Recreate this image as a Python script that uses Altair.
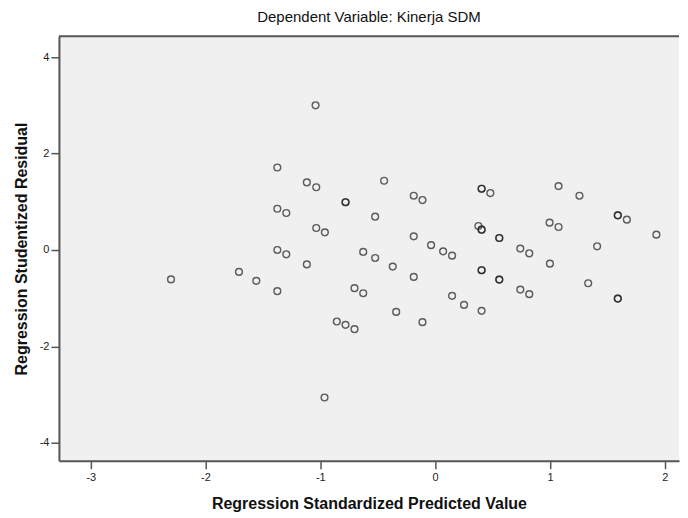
import altair as alt
import pandas as pd

# Regression Standardized Predicted Value (x) and Studentized Residual (y)
pred = [-2.30, -1.708, -1.557, -1.374, -1.374, -1.374, -1.374, -1.296, -1.296,
        -1.117, -1.117, -1.041, -1.035, -1.035, -0.96, -0.963, -0.856,
        -0.78, -0.78, -0.78, -0.702, -0.702, -0.626, -0.626, -0.522, -0.522,
        -0.444, -0.369, -0.339, -0.186, -0.186, -0.186, -0.11, -0.11, -0.035,
        0.07, 0.148, 0.148, 0.252, 0.377, 0.405, 0.405, 0.405, 0.405, 0.405,
        0.405, 0.405, 0.481, 0.559, 0.559, 0.559, 0.559, 0.742, 0.742, 0.82,
        0.82, 0.997, 1.0, 1.075, 1.075, 1.257, 1.333, 1.411, 1.591, 1.591,
        1.591, 1.591, 1.67, 1.927]
resid = [-0.61, -0.455, -0.64, 1.71, 0.855, 0.0, -0.855, 0.766, -0.09,
         1.40, -0.30, 3.00, 1.30, 0.455, 0.366, -3.06, -1.484,
         0.99, 0.99, -1.553, -0.793, -1.643, -0.041, -0.897, 0.69, -0.166,
         1.435, -0.345, -1.284, 1.125, 0.283, -0.559, 1.035, -1.497, 0.10,
         -0.028, -0.118, -0.952, -1.139, 0.497, 1.27, 1.27, 0.42, 0.42, -0.42,
         -0.42, -1.263, 1.18, 0.248, 0.248, -0.614, -0.614, 0.028, -0.822, -0.069,
         -0.917, 0.566, -0.284, 1.325, 0.476, 1.125, -0.69, 0.076, 0.718, 0.718,
         -1.008, -1.008, 0.628, 0.317]

x_ticks = [-3, -2, -1, 0, 1, 2]
y_ticks = [-4, -2, 0, 2, 4]
x_domain = [-3.276, 2.124]
y_domain = [-4.37, 4.43]

PLOT_W = 621
PLOT_H = 425

df = pd.DataFrame({"pred": pred, "resid": resid})

FONT = "Liberation Sans"

points = alt.Chart(df).mark_point(
    shape="circle", filled=False, size=46, strokeWidth=1.4,
    color="#1e1e1e", opacity=0.7
).encode(
    x=alt.X("pred:Q",
            scale=alt.Scale(domain=x_domain, nice=False, zero=False),
            axis=alt.Axis(values=x_ticks, title="Regression Standardized Predicted Value",
                          labelExpr="datum.value + ''", grid=False,
                          tickSize=8, labelPadding=3, titlePadding=13)),
    y=alt.Y("resid:Q",
            scale=alt.Scale(domain=y_domain, nice=False, zero=False),
            axis=alt.Axis(values=y_ticks, title="Regression Studentized Residual",
                          labelExpr="datum.value + ''", grid=False,
                          tickSize=8, labelPadding=2, titlePadding=10)),
)

top_border = alt.Chart(pd.DataFrame({"a": [0]})).mark_rule(
    color="#555555", strokeWidth=2
).encode(y=alt.value(0), x=alt.value(0), x2=alt.value(PLOT_W))

chart = alt.layer(points, top_border).properties(
    width=PLOT_W, height=PLOT_H,
    title=alt.TitleParams("Dependent Variable: Kinerja SDM", fontSize=15,
                          font=FONT, fontWeight="normal", color="#111111",
                          anchor="middle", offset=10),
    padding={"left": 5, "top": 2, "right": 0, "bottom": 0},
    background="white",
).configure_view(
    fill="#F0F0F0", stroke=None
).configure_axis(
    domainColor="#555555", domainWidth=2, tickColor="#555555", tickWidth=1.5,
    labelFont=FONT, labelFontSize=11, labelColor="#222222",
    titleFont=FONT, titleFontSize=16, titleFontWeight="bold", titleColor="#111111",
)

chart.save("out.html", embed_options={"renderer": "svg", "actions": False})
